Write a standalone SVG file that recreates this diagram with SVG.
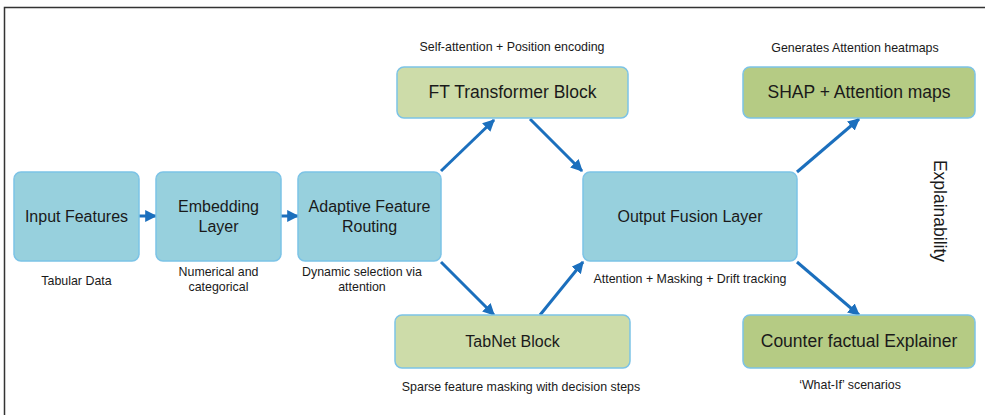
<svg xmlns="http://www.w3.org/2000/svg" width="985" height="415" viewBox="0 0 985 415">
  <style>
    .node-blue { fill: #97d0dd; stroke: #7cc3e6; stroke-width: 1.5; }
    .node-lgreen { fill: #cddca9; stroke: #7cc3e6; stroke-width: 1.5; }
    .node-dgreen { fill: #b5cb84; stroke: #7cc3e6; stroke-width: 1.5; }
    .title { font-family: "Liberation Sans", Arial, sans-serif; font-size: 16px; fill: #1a1a1a; text-anchor: middle; }
    .title-lg { font-size: 17.5px; }
    .note { font-family: "Liberation Sans", Arial, sans-serif; font-size: 12.4px; fill: #1a1a1a; text-anchor: middle; }
    .conn { stroke: #1b6fbd; stroke-width: 3; fill: none; marker-end: url(#arrow); }
  </style>
  <defs>
    <marker id="arrow" viewBox="0 0 10 10" refX="9" refY="5" markerWidth="4" markerHeight="4" orient="auto" markerUnits="strokeWidth">
      <path d="M0,0 L10,5 L0,10 z" fill="#1b6fbd"/>
    </marker>
  </defs>

  <rect width="985" height="415" fill="#ffffff"/>
  <!-- frame (top and left edges) -->
  <path d="M985,7.5 H4.5 V415" fill="none" stroke="#333333" stroke-width="1.5"/>

  <g id="connectors">
    <line class="conn" x1="139" y1="216" x2="156" y2="216"/>
    <line class="conn" x1="281" y1="216" x2="298" y2="216"/>
    <line class="conn" x1="441" y1="171" x2="494" y2="120"/>
    <line class="conn" x1="441" y1="262" x2="494" y2="315"/>
    <line class="conn" x1="530" y1="119" x2="582" y2="171"/>
    <line class="conn" x1="540" y1="315" x2="583" y2="262"/>
    <line class="conn" x1="797" y1="172" x2="859" y2="119"/>
    <line class="conn" x1="797" y1="262" x2="859" y2="315"/>
  </g>

  <g id="input-features">
    <rect class="node-blue" x="14" y="172" width="125" height="89" rx="7"/>
    <text class="title" x="76.5" y="222">Input Features</text>
    <text class="note" x="76.5" y="285">Tabular Data</text>
  </g>

  <g id="embedding-layer">
    <rect class="node-blue" x="156" y="172" width="125" height="89" rx="7"/>
    <text class="title" x="218.5" y="212">Embedding</text>
    <text class="title" x="218.5" y="232">Layer</text>
    <text class="note" x="218.5" y="276">Numerical and</text>
    <text class="note" x="218.5" y="291">categorical</text>
  </g>

  <g id="adaptive-routing">
    <rect class="node-blue" x="298" y="172" width="143" height="89" rx="7"/>
    <text class="title" x="369.5" y="212">Adaptive Feature</text>
    <text class="title" x="369.5" y="232">Routing</text>
    <text class="note" x="362" y="276">Dynamic selection via</text>
    <text class="note" x="362" y="291">attention</text>
  </g>

  <g id="ft-transformer">
    <rect class="node-lgreen" x="397" y="67" width="231" height="51" rx="7"/>
    <text class="title title-lg" x="512.5" y="98">FT Transformer Block</text>
    <text class="note" x="512" y="51">Self-attention + Position encoding</text>
  </g>

  <g id="tabnet">
    <rect class="node-lgreen" x="395" y="315" width="235" height="53" rx="7"/>
    <text class="title" x="512.5" y="347">TabNet Block</text>
    <text class="note" x="521" y="391">Sparse feature masking with decision steps</text>
  </g>

  <g id="output-fusion">
    <rect class="node-blue" x="583" y="172" width="214" height="89" rx="7"/>
    <text class="title" x="690" y="222">Output Fusion Layer</text>
    <text class="note" x="690" y="283">Attention + Masking + Drift tracking</text>
  </g>

  <g id="shap-attention">
    <rect class="node-dgreen" x="743" y="67" width="232" height="51" rx="7"/>
    <text class="title title-lg" x="859" y="98">SHAP + Attention maps</text>
    <text class="note" x="855" y="52">Generates Attention heatmaps</text>
  </g>

  <g id="counterfactual">
    <rect class="node-dgreen" x="743" y="315" width="232" height="53" rx="7"/>
    <text class="title title-lg" x="859" y="347">Counter factual Explainer</text>
    <text class="note" x="850" y="389">‘What-If’ scenarios</text>
  </g>

  <g id="explainability-label">
    <text class="title title-lg" transform="translate(934,211) rotate(90)">Explainability</text>
  </g>
</svg>
